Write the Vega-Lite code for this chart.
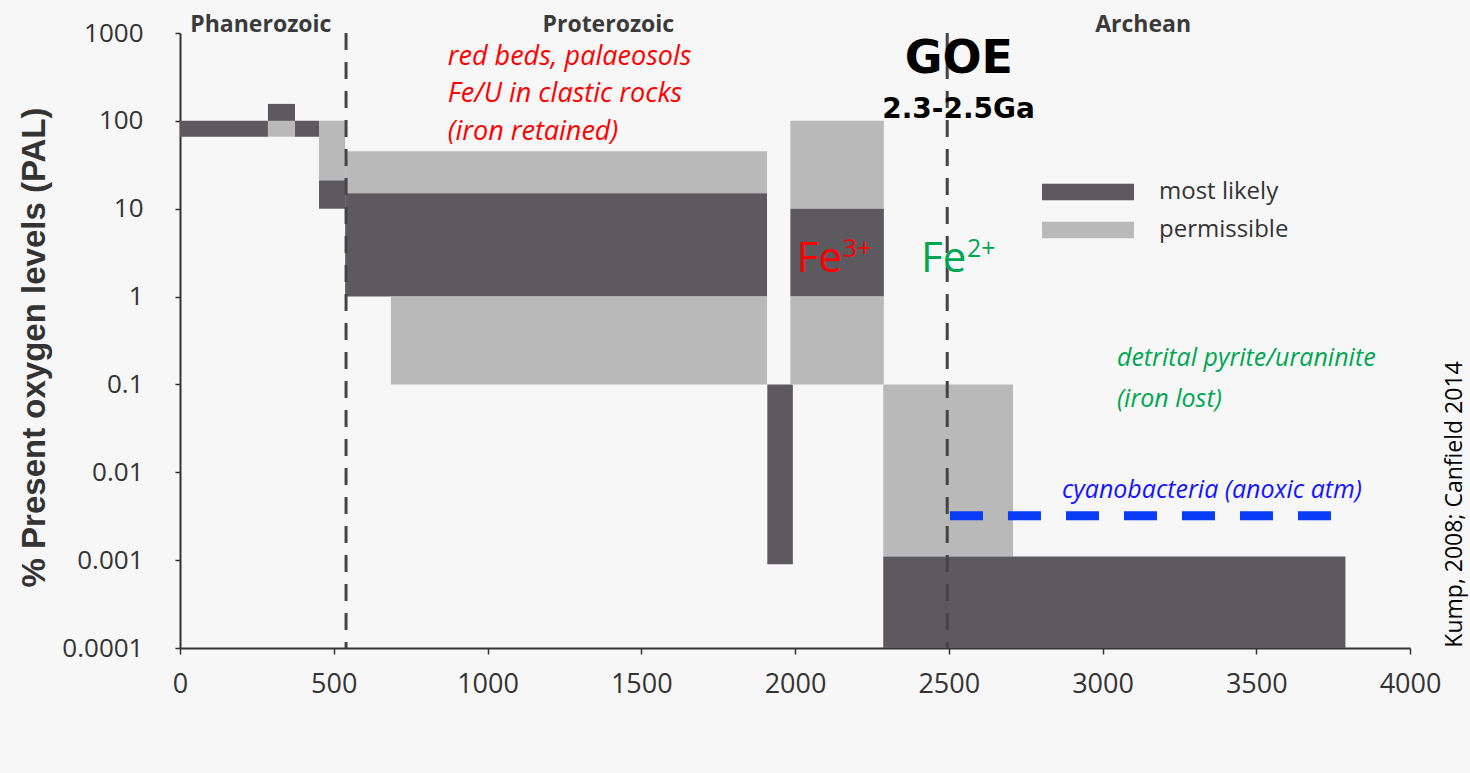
{
  "$schema": "https://vega.github.io/schema/vega-lite/v6.json",
  "autosize": "none",
  "width": 1230,
  "height": 615,
  "padding": {"left": 180, "top": 33, "right": 60, "bottom": 125},
  "background": "#f7f7f7",
  "config": {
    "view": {"stroke": null},
    "font": "Open Sans",
    "axis": {"grid": false, "domainColor": "#333", "domainWidth": 2, "tickColor": "#333", "tickWidth": 1.5, "labelColor": "#333", "labelFont": "Open Sans", "labelFontSize": 26}
  },
  "datasets": {
    "blocks": [
      {"x": 0, "x2": 286, "y": 66, "y2": 100, "type": "most likely"},
      {"x": 286, "x2": 374, "y": 66, "y2": 100, "type": "permissible"},
      {"x": 286, "x2": 374, "y": 100, "y2": 156, "type": "most likely"},
      {"x": 374, "x2": 452, "y": 66, "y2": 100, "type": "most likely"},
      {"x": 452, "x2": 537, "y": 21, "y2": 100, "type": "permissible"},
      {"x": 452, "x2": 537, "y": 10, "y2": 21, "type": "most likely"},
      {"x": 537, "x2": 1909, "y": 15, "y2": 45, "type": "permissible"},
      {"x": 537, "x2": 1909, "y": 1, "y2": 15, "type": "most likely"},
      {"x": 686, "x2": 1909, "y": 0.1, "y2": 1, "type": "permissible"},
      {"x": 1910, "x2": 1993, "y": 0.0009, "y2": 0.1, "type": "most likely"},
      {"x": 1985, "x2": 2289, "y": 10, "y2": 100, "type": "permissible"},
      {"x": 1985, "x2": 2289, "y": 1, "y2": 10, "type": "most likely"},
      {"x": 1985, "x2": 2289, "y": 0.1, "y2": 1, "type": "permissible"},
      {"x": 2287, "x2": 2709, "y": 0.0011, "y2": 0.1, "type": "permissible"},
      {"x": 2287, "x2": 3790, "y": 0.0001, "y2": 0.0011, "type": "most likely"}
    ],
    "boundaries": [{"x": 540}, {"x": 2495}],
    "cyano": [{"x": 2504, "y": 0.0032}, {"x": 3743, "y": 0.0032}],
    "eras": [
      {"label": "Phanerozoic", "x": 263, "y": 1000},
      {"label": "Proterozoic", "x": 1393, "y": 1000},
      {"label": "Archean", "x": 3132, "y": 1000}
    ],
    "notes": [
      {"text": "red beds, palaeosols", "x": 871, "y": 433, "kind": "red"},
      {"text": "Fe/U in clastic rocks", "x": 871, "y": 164, "kind": "red"},
      {"text": "(iron retained)", "x": 871, "y": 60.6, "kind": "red"},
      {"text": "detrital pyrite/uraninite", "x": 3047, "y": 0.163, "kind": "green"},
      {"text": "(iron lost)", "x": 3047, "y": 0.0556, "kind": "green"},
      {"text": "cyanobacteria (anoxic atm)", "x": 2868, "y": 0.0051, "kind": "blue"}
    ],
    "ions": [
      {"base": "Fe", "charge": "3+", "x": 2006, "y": 1.91, "kind": "red"},
      {"base": "Fe", "charge": "2+", "x": 2410, "y": 1.91, "kind": "green"}
    ],
    "goe": [{"text": "GOE", "x": 2533, "y": 351}],
    "goeAge": [{"text": "2.3-2.5Ga", "x": 2532, "y": 108}],
    "credit": [{"text": "Kump, 2008; Canfield 2014", "x": 4170, "y": 0.0043}]
  },
  "layer": [
    {
      "data": {"name": "blocks"},
      "mark": {"type": "rect", "strokeWidth": 0},
      "encoding": {
        "x": {"field": "x", "type": "quantitative", "scale": {"domain": [0, 4000], "nice": false, "zero": false},
              "axis": {"values": [0, 500, 1000, 1500, 2000, 2500, 3000, 3500, 4000], "format": "d", "title": null, "tickSize": 6, "labelPadding": 17, "labelFontSize": 27, "labelFlush": false}},
        "x2": {"field": "x2"},
        "y": {"field": "y", "type": "quantitative", "scale": {"type": "log", "domain": [0.0001, 1000], "nice": false},
              "axis": {"values": [0.0001, 0.001, 0.01, 0.1, 1, 10, 100, 1000], "format": "~g", "tickSize": 5, "labelPadding": 32, "labelFlush": false,
                       "title": "% Present oxygen levels (PAL)", "titleFont": "Liberation Sans", "titleFontSize": 33, "titleFontWeight": "bold", "titleColor": "#333",
                       "titleX": -136, "titleY": 314, "titleAngle": -90, "titleAlign": "center", "titleBaseline": "alphabetic"}},
        "y2": {"field": "y2"},
        "color": {"field": "type", "type": "nominal",
                  "scale": {"domain": ["most likely", "permissible"], "range": ["#5c5a5e", "#b9b9b9"]},
                  "legend": {"orient": "none", "legendX": 896, "legendY": 147, "title": null, "padding": 0,
                             "symbolType": "M-5,-0.9H5V0.9H-5Z", "symbolSize": 339, "symbolStrokeWidth": 0, "symbolOpacity": 1,
                             "labelFont": "Open Sans", "labelFontSize": 24, "labelColor": "#333", "labelOffset": 59, "rowPadding": 14}}
      }
    },
    {
      "data": {"name": "boundaries"},
      "mark": {"type": "rule", "color": "#444", "strokeWidth": 3, "strokeDash": [17, 12]},
      "encoding": {"x": {"field": "x", "type": "quantitative"}}
    },
    {
      "data": {"name": "cyano"},
      "mark": {"type": "line", "color": "#0a3cf5", "strokeWidth": 9, "strokeDash": [33, 25], "strokeCap": "butt"},
      "encoding": {"x": {"field": "x", "type": "quantitative"}, "y": {"field": "y", "type": "quantitative"}}
    },
    {
      "data": {"name": "eras"},
      "mark": {"type": "text", "font": "Open Sans", "fontSize": 23, "fontWeight": "bold", "color": "#3a3a3a", "align": "center", "baseline": "alphabetic", "dy": -1},
      "encoding": {"x": {"field": "x", "type": "quantitative"}, "y": {"field": "y", "type": "quantitative"}, "text": {"field": "label"}}
    },
    {
      "data": {"name": "notes"},
      "transform": [{"filter": "datum.kind === 'red'"}],
      "mark": {"type": "text", "font": "Open Sans", "fontSize": 27, "fontStyle": "italic", "color": "#ff0000", "align": "left", "baseline": "alphabetic"},
      "encoding": {"x": {"field": "x", "type": "quantitative"}, "y": {"field": "y", "type": "quantitative"}, "text": {"field": "text"}}
    },
    {
      "data": {"name": "notes"},
      "transform": [{"filter": "datum.kind === 'green'"}],
      "mark": {"type": "text", "font": "Open Sans", "fontSize": 25, "fontStyle": "italic", "color": "#00a651", "align": "left", "baseline": "alphabetic"},
      "encoding": {"x": {"field": "x", "type": "quantitative"}, "y": {"field": "y", "type": "quantitative"}, "text": {"field": "text"}}
    },
    {
      "data": {"name": "notes"},
      "transform": [{"filter": "datum.kind === 'blue'"}],
      "mark": {"type": "text", "font": "Open Sans", "fontSize": 25, "fontStyle": "italic", "color": "#1414ff", "align": "left", "baseline": "alphabetic"},
      "encoding": {"x": {"field": "x", "type": "quantitative"}, "y": {"field": "y", "type": "quantitative"}, "text": {"field": "text"}}
    },
    {
      "data": {"name": "ions"},
      "mark": {"type": "text", "font": "Open Sans", "fontSize": 42, "align": "left", "baseline": "alphabetic"},
      "encoding": {"x": {"field": "x", "type": "quantitative"}, "y": {"field": "y", "type": "quantitative"}, "text": {"field": "base"},
                   "color": {"condition": {"test": "datum.kind === 'red'", "value": "#ff0000"}, "value": "#00a651"}}
    },
    {
      "data": {"name": "ions"},
      "mark": {"type": "text", "font": "Open Sans", "fontSize": 25, "align": "left", "baseline": "alphabetic", "dx": 46, "dy": -15},
      "encoding": {"x": {"field": "x", "type": "quantitative"}, "y": {"field": "y", "type": "quantitative"}, "text": {"field": "charge"},
                   "color": {"condition": {"test": "datum.kind === 'red'", "value": "#ff0000"}, "value": "#00a651"}}
    },
    {
      "data": {"name": "goe"},
      "mark": {"type": "text", "font": "DejaVu Sans", "fontSize": 46, "fontWeight": "bold", "color": "#000", "align": "center", "baseline": "alphabetic"},
      "encoding": {"x": {"field": "x", "type": "quantitative"}, "y": {"field": "y", "type": "quantitative"}, "text": {"field": "text"}}
    },
    {
      "data": {"name": "goeAge"},
      "mark": {"type": "text", "font": "DejaVu Sans", "fontSize": 28, "fontWeight": "bold", "color": "#000", "align": "center", "baseline": "alphabetic"},
      "encoding": {"x": {"field": "x", "type": "quantitative"}, "y": {"field": "y", "type": "quantitative"}, "text": {"field": "text"}}
    },
    {
      "data": {"name": "credit"},
      "mark": {"type": "text", "font": "Open Sans", "fontSize": 23, "color": "#000", "angle": 270, "align": "center", "baseline": "alphabetic"},
      "encoding": {"x": {"field": "x", "type": "quantitative"}, "y": {"field": "y", "type": "quantitative"}, "text": {"field": "text"}}
    }
  ]
}
